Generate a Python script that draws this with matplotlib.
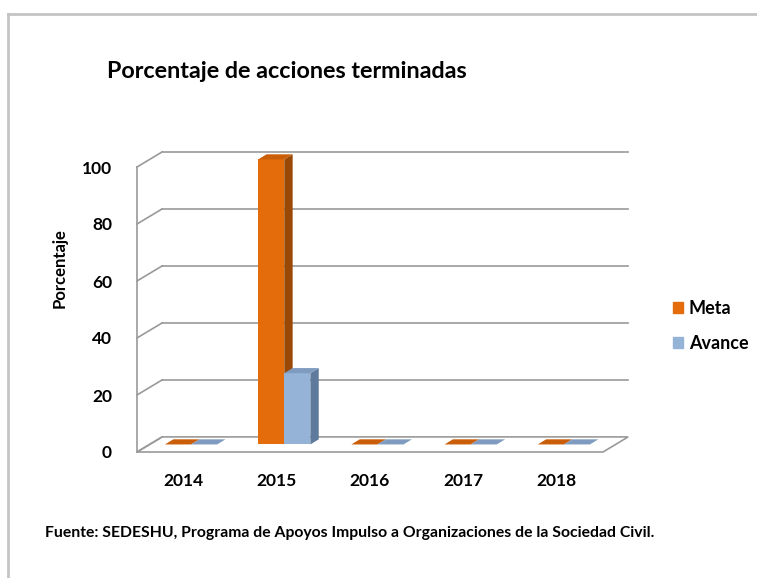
import matplotlib
matplotlib.use('Agg')
import matplotlib.pyplot as plt
from matplotlib.patches import Polygon, Rectangle
from matplotlib.lines import Line2D

plt.rcParams['font.family'] = ['Lato', 'DejaVu Sans']

# datos
years = ['2014', '2015', '2016', '2017', '2018']
meta = [0, 100, 0, 0, 0]
avance = [0, 25, 0, 0, 0]
yticks = [0, 20, 40, 60, 80, 100]

# colores tipo Excel 2007
c_meta, c_meta_side, c_meta_top = '#E46C0A', '#9A4806', '#C95D08'
c_av, c_av_side, c_av_top = '#95B3D7', '#5E7A9C', '#7F9CC0'
grid_c = '#9A9A9A'

W, H = 757, 578
fig = plt.figure(figsize=(W / 100, H / 100), dpi=100)

# marco exterior
fig.add_artist(Line2D([8 / W, 1], [1 - 14 / H, 1 - 14 / H], color='#C4C4C4', lw=2))
fig.add_artist(Line2D([8 / W, 8 / W], [0, 1 - 14 / H], color='#C4C4C4', lw=2))

# ejes = plano frontal
x0, x1, yb, yt = 137, 603, 452, 167
ax = fig.add_axes([x0 / W, 1 - yb / H, (x1 - x0) / W, (yb - yt) / H])
ax.set_xlim(-0.5, len(years) - 0.5)
ax.set_ylim(0, 100)
for s in ax.spines.values():
    s.set_visible(False)
ax.tick_params(length=0)

dx, dy = 0.27, 5.3  # profundidad del fondo
xl, xr = -0.5, len(years) - 0.5

# piso
ax.add_patch(Polygon([(xl, 0), (xr, 0), (xr + dx, dy), (xl + dx, dy)], closed=True,
                     facecolor='white', edgecolor=grid_c, lw=1.2, clip_on=False, zorder=1))
# pared izquierda y líneas de cuadrícula
ax.plot([xl, xl], [0, 100], color=grid_c, lw=1.2, clip_on=False, zorder=1)
for v in yticks:
    ax.plot([xl, xl + dx], [v, v + dy], color=grid_c, lw=1.2, clip_on=False, zorder=1)
    if v > 0:
        ax.plot([xl + dx, xr + dx], [v + dy, v + dy], color=grid_c, lw=1.2, clip_on=False, zorder=1)

# barras 3D simuladas
bw = 0.28
shift = 0.08
base = dy / 2
ddx, ddy = 0.09, 1.8


def bar3d(xc, val, front, side, top, z):
    left, right = xc - bw / 2, xc + bw / 2
    h = max(val, 0)
    ax.bar(xc, h, width=bw, bottom=base, color=front, zorder=z, clip_on=False)
    ax.add_patch(Polygon([(right, base), (right + ddx, base + ddy), (right + ddx, base + h + ddy),
                          (right, base + h)], closed=True, facecolor=side, lw=0, zorder=z,
                         clip_on=False))
    ax.add_patch(Polygon([(left, base + h), (right, base + h), (right + ddx, base + h + ddy),
                          (left + ddx, base + h + ddy)], closed=True, facecolor=top, lw=0,
                         zorder=z, clip_on=False))


for i in range(len(years)):
    bar3d(i + shift - bw / 2, meta[i], c_meta, c_meta_side, c_meta_top, 3 + i * 0.01)
    bar3d(i + shift + bw / 2, avance[i], c_av, c_av_side, c_av_top, 3.005 + i * 0.01)

ax.set_yticks(yticks)
ax.set_yticklabels([str(v) for v in yticks], fontsize=12.5, fontweight='bold')
ax.set_xticks(range(len(years)))
ax.set_xticklabels(years, fontsize=12.5, fontweight='bold')
ax.tick_params(axis='y', pad=18)
ax.tick_params(axis='x', pad=15)
ax.grid(False)

fig.text(60 / W, 1 - 268 / H, 'Porcentaje', fontsize=12, fontweight='bold',
         rotation=90, va='center', ha='center')

fig.text(107 / W, 1 - 72 / H, 'Porcentaje de acciones terminadas', fontsize=16.8,
         fontweight='bold', va='center', ha='left')

# leyenda
handles = [Rectangle((0, 0), 1, 1, color=c_meta), Rectangle((0, 0), 1, 1, color=c_av)]
fig.legend(handles, ['Meta', 'Avance'], loc='upper left', bbox_to_anchor=(657 / W, 1 - 284 / H),
           frameon=False, handlelength=0.55, handleheight=0.55, handletextpad=0.3,
           labelspacing=1.0, prop={'weight': 'bold', 'size': 13})

fig.text(45 / W, 1 - 533 / H,
         'Fuente: SEDESHU, Programa de Apoyos Impulso a Organizaciones de la Sociedad Civil.',
         fontsize=11.3, fontweight='bold', va='center', ha='left')

fig.savefig('out.png', dpi=100)
